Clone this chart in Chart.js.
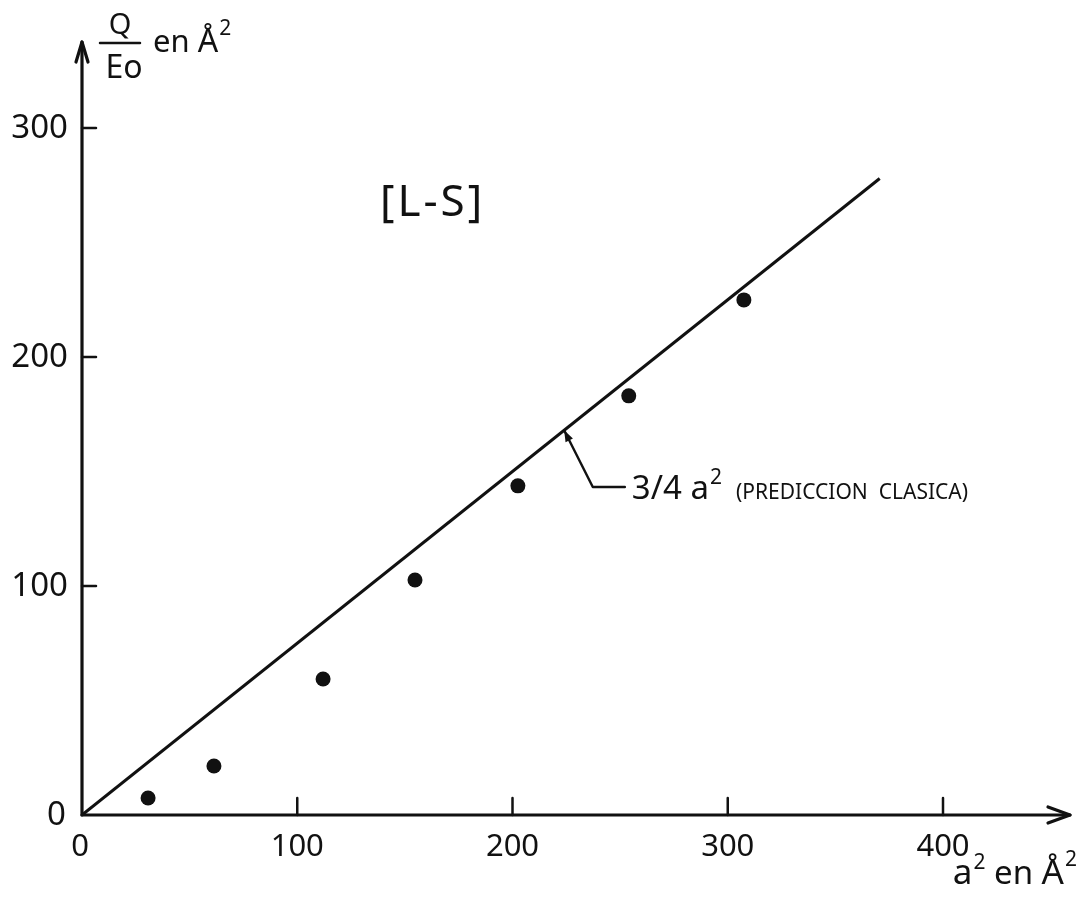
<!DOCTYPE html>
<html>
<head>
<meta charset="utf-8">
<style>
html,body{margin:0;padding:0;background:#fff}
#wrap{width:1086px;height:897px;position:relative}
</style>
<script src="https://cdn.jsdelivr.net/npm/chart.js@4.4.0/dist/chart.umd.min.js"></script>
</head>
<body>
<div id="wrap"><canvas id="c"></canvas></div>
<script>
// ---- data ----
const xTicks = [0, 100, 200, 300, 400];
const yTicks = [0, 100, 200, 300];
const aSquared = [30.7, 61.3, 112, 154.7, 202.5, 254, 307.5];
const qOverE0 = [7.4, 21.4, 59.4, 102.6, 143.7, 183, 224.9];
const classicalX = [0, 370.6];
const classicalY = [0, 277.9];
const annotTip = {x: 224, y: 168};
const annotElbow = {x: 237.3, y: 143.2};
const annotEnd = {x: 252.2, y: 143.2};
const lsLabelPos = {x: 138.4, y: 267};

const FONT = "'Noto Sans','DejaVu Sans',sans-serif";
const INK = '#111';

function drawRich(ctx, parts, x, y, align) {
  let total = 0;
  parts.forEach(p => { ctx.font = p.size + 'px ' + FONT; p.w = ctx.measureText(p.t).width + (p.gap || 0); total += p.w; });
  let cx = align === 'right' ? x - total : (align === 'center' ? x - total / 2 : x);
  ctx.textAlign = 'left';
  ctx.textBaseline = 'alphabetic';
  parts.forEach(p => {
    ctx.font = p.size + 'px ' + FONT;
    ctx.fillText(p.t, cx, y + (p.dy || 0));
    cx += p.w;
  });
}

const decor = {
  id: 'decor',
  afterDraw(chart) {
    const {ctx, scales: {x, y}} = chart;
    const ca = chart.chartArea;
    const X0 = x.getPixelForValue(0), Y0 = y.getPixelForValue(0);
    ctx.save();
    ctx.strokeStyle = INK;
    ctx.fillStyle = INK;
    ctx.lineWidth = 3.2;
    ctx.lineCap = 'round';
    ctx.lineJoin = 'round';
    // y axis + arrow
    ctx.beginPath(); ctx.moveTo(X0, Y0); ctx.lineTo(X0, ca.top); ctx.stroke();
    ctx.beginPath(); ctx.moveTo(X0 - 6, ca.top + 20); ctx.lineTo(X0, ca.top); ctx.lineTo(X0 + 6, ca.top + 20); ctx.stroke();
    // x axis + arrow
    ctx.beginPath(); ctx.moveTo(X0, Y0); ctx.lineTo(ca.right, Y0); ctx.stroke();
    ctx.beginPath(); ctx.moveTo(ca.right - 22, Y0 - 8); ctx.lineTo(ca.right, Y0); ctx.lineTo(ca.right - 22, Y0 + 8); ctx.stroke();
    // ticks
    ctx.lineWidth = 2.5;
    ctx.font = '31px ' + FONT;
    ctx.textAlign = 'center'; ctx.textBaseline = 'middle';
    xTicks.forEach(v => {
      const px = x.getPixelForValue(v);
      if (v !== 0) { ctx.beginPath(); ctx.moveTo(px, Y0); ctx.lineTo(px, Y0 - 17); ctx.stroke(); }
      ctx.fillText(String(v), v === 0 ? px - 2 : px, Y0 + 32);
    });
    ctx.font = '33px ' + FONT;
    ctx.textAlign = 'right';
    yTicks.forEach(v => {
      const py = y.getPixelForValue(v);
      if (v !== 0) { ctx.beginPath(); ctx.moveTo(X0, py); ctx.lineTo(X0 + 14, py); ctx.stroke(); }
      ctx.fillText(String(v), X0 - (v === 0 ? 16 : 14), py + 1);
    });
    // y axis title: Q / Eo en Å²
    ctx.textAlign = 'center'; ctx.textBaseline = 'alphabetic';
    ctx.font = '29px ' + FONT;
    ctx.fillText('Q', 120, 34);
    ctx.lineWidth = 2.5;
    ctx.beginPath(); ctx.moveTo(100, 43); ctx.lineTo(140, 43); ctx.stroke();
    ctx.font = '32px ' + FONT;
    ctx.fillText('Eo', 124, 78);
    drawRich(ctx, [{t: 'en ', size: 31}, {t: 'Å', size: 32, gap: 1}, {t: '2', size: 21, dy: -17}], 153, 52, 'left');
    // x axis title: a² en Å²
    drawRich(ctx, [{t: 'a', size: 35, gap: 1}, {t: '2', size: 21, dy: -15}, {t: ' en ', size: 33}, {t: 'Å', size: 35, gap: 1}, {t: '2', size: 21, dy: -18}], 1077, 884, 'right');
    // [L-S]
    ctx.font = '44px ' + FONT;
    ctx.textAlign = 'left'; ctx.textBaseline = 'middle';
    ctx.letterSpacing = '3px';
    ctx.fillText('[L-S]', x.getPixelForValue(lsLabelPos.x), y.getPixelForValue(lsLabelPos.y));
    ctx.letterSpacing = '0px';
    // annotation arrow
    const tx = x.getPixelForValue(annotTip.x), ty = y.getPixelForValue(annotTip.y);
    const ex = x.getPixelForValue(annotElbow.x), ey = y.getPixelForValue(annotElbow.y);
    const hx = x.getPixelForValue(annotEnd.x);
    ctx.lineWidth = 2.4;
    ctx.beginPath(); ctx.moveTo(hx, ey); ctx.lineTo(ex, ey); ctx.lineTo(tx, ty); ctx.stroke();
    const ang = Math.atan2(ty - ey, tx - ex);
    ctx.beginPath();
    ctx.moveTo(tx, ty);
    ctx.lineTo(tx - 12 * Math.cos(ang - 0.35), ty - 12 * Math.sin(ang - 0.35));
    ctx.lineTo(tx - 12 * Math.cos(ang + 0.35), ty - 12 * Math.sin(ang + 0.35));
    ctx.closePath(); ctx.fill();
    drawRich(ctx, [
      {t: '3/4 ', size: 33}, {t: 'a', size: 33, gap: 1}, {t: '2', size: 21, dy: -15, gap: 14},
      {t: '(PREDICCION  CLASICA)', size: 21}
    ], hx + 7, ey + 12, 'left');
    ctx.restore();
  }
};

new Chart(document.getElementById('c'), {
  type: 'scatter',
  data: {
    datasets: [
      {
        label: '3/4 a² (predicción clásica)',
        data: classicalX.map((v, i) => ({x: v, y: classicalY[i]})),
        showLine: true,
        borderColor: INK,
        borderWidth: 3,
        pointRadius: 0,
        fill: false
      },
      {
        label: '[L-S]',
        data: aSquared.map((v, i) => ({x: v, y: qOverE0[i]})),
        backgroundColor: INK,
        borderColor: INK,
        borderWidth: 0,
        pointRadius: 7.5,
        pointHoverRadius: 7.5
      }
    ]
  },
  options: {
    responsive: true,
    maintainAspectRatio: false,
    animation: false,
    layout: {padding: {left: 82, right: 16, top: 42, bottom: 82}},
    plugins: {legend: {display: false}, tooltip: {enabled: false}},
    scales: {
      x: {type: 'linear', min: 0, max: 459, display: false},
      y: {type: 'linear', min: 0, max: 337.5, display: false}
    }
  },
  plugins: [decor]
});
</script>
</body>
</html>
